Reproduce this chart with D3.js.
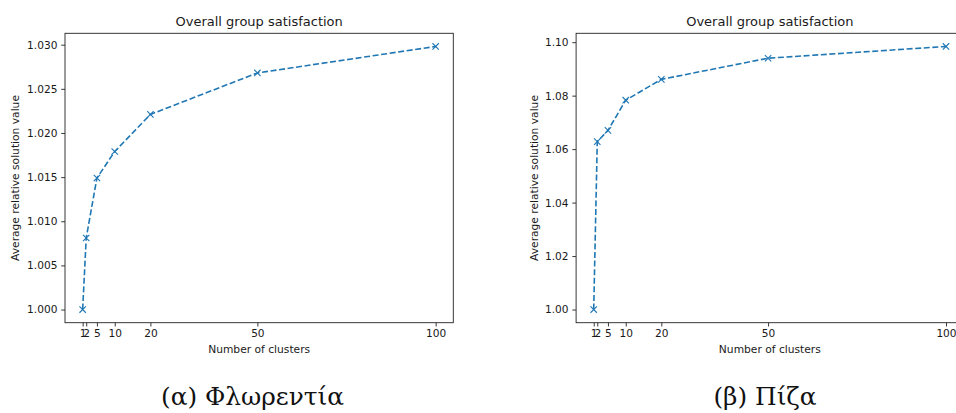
<!DOCTYPE html>
<html>
<head>
<meta charset="utf-8">
<script src="https://cdn.jsdelivr.net/npm/d3@7"></script>
<style>
  body { margin: 0; background: #fff; }
  svg { display: block; overflow: hidden; }
</style>
</head>
<body>
<div id="chart"></div>
<script>
// number of clusters (x values, also used as tick positions)
var clusters = [1, 2, 5, 10, 20, 50, 100];

// average relative solution value per city
var florenceValues = [1.0000, 1.0081, 1.0149, 1.0179, 1.0221, 1.0268, 1.0298];
var pisaValues = [1.0000, 1.0628, 1.0670, 1.0783, 1.0861, 1.0940, 1.0984];

var florenceTicks = [1.000, 1.005, 1.010, 1.015, 1.020, 1.025, 1.030];
var pisaTicks = [1.00, 1.02, 1.04, 1.06, 1.08, 1.10];

var chartTitle = "Overall group satisfaction";
var xLabel = "Number of clusters";
var yLabel = "Average relative solution value";
var captions = ["(α) Φλωρεντία", "(β) Πίζα"];

var width = 956;
var height = 413;
var lineColor = "#1f77b4";

var svg = d3.select("#chart").append("svg")
    .attr("width", width)
    .attr("height", height)
    .attr("font-family", "DejaVu Sans, sans-serif");

// matplotlib-like 5% margins around the data
function padded(ext) {
  var m = (ext[1] - ext[0]) * 0.05;
  return [ext[0] - m, ext[1] + m];
}

function drawPanel(opts) {
  var left = opts.left, right = opts.right, top = 33.3, bottom = 322.7;

  var x = d3.scaleLinear()
      .domain(padded(d3.extent(clusters)))
      .range([left, right]);
  var y = d3.scaleLinear()
      .domain(padded(d3.extent(opts.values)))
      .range([bottom, top]);

  var g = svg.append("g");

  var xAxis = g.append("g")
      .attr("transform", "translate(0," + bottom + ")")
      .call(d3.axisBottom(x).tickValues(clusters).tickFormat(d3.format("d"))
        .tickSize(3.8).tickPadding(3.4));
  var yAxis = g.append("g")
      .attr("transform", "translate(" + left + ",0)")
      .call(d3.axisLeft(y).tickValues(opts.ticks).tickFormat(d3.format(opts.fmt))
        .tickSize(3.8).tickPadding(3.8));

  [xAxis, yAxis].forEach(function(a) {
    a.select(".domain").remove();
    a.selectAll("line").attr("stroke", "#222").attr("stroke-width", 0.9);
    a.selectAll("text")
        .attr("fill", "#1a1a1a")
        .attr("font-size", 10.6)
        .attr("font-family", "DejaVu Sans, sans-serif");
  });

  // the line
  var line = d3.line()
      .x(function(d) { return x(d[0]); })
      .y(function(d) { return y(d[1]); });
  var pts = d3.zip(clusters, opts.values);

  g.append("path")
      .datum(pts)
      .attr("d", line)
      .attr("fill", "none")
      .attr("stroke", lineColor)
      .attr("stroke-width", 1.6)
      .attr("stroke-dasharray", "6,2.6");

  var s = 3.2;
  g.selectAll(".mark")
      .data(pts)
    .enter().append("path")
      .attr("class", "mark")
      .attr("d", function(d) {
        var cx = x(d[0]), cy = y(d[1]);
        return "M" + (cx - s) + "," + (cy - s) + "L" + (cx + s) + "," + (cy + s) +
               "M" + (cx - s) + "," + (cy + s) + "L" + (cx + s) + "," + (cy - s);
      })
      .attr("fill", "none")
      .attr("stroke", lineColor)
      .attr("stroke-width", 1.1);

  // frame
  g.append("rect")
      .attr("x", left)
      .attr("y", top)
      .attr("width", right - left)
      .attr("height", bottom - top)
      .attr("fill", "none")
      .attr("stroke", "#222")
      .attr("stroke-width", 0.9);

  var cx = (left + right) / 2;
  g.append("text")
      .attr("x", cx)
      .attr("y", 25.5)
      .attr("text-anchor", "middle")
      .attr("font-size", 13)
      .attr("fill", "#1a1a1a")
      .text(chartTitle);

  g.append("text")
      .attr("x", cx)
      .attr("y", 353)
      .attr("text-anchor", "middle")
      .attr("font-size", 10.7)
      .attr("fill", "#1a1a1a")
      .text(xLabel);

  g.append("text")
      .attr("transform", "translate(" + opts.yLabelX + "," + ((top + bottom) / 2) + ") rotate(-90)")
      .attr("text-anchor", "middle")
      .attr("font-size", 10.7)
      .attr("fill", "#1a1a1a")
      .text(yLabel);

  g.append("text")
      .attr("x", opts.captionX)
      .attr("y", 405)
      .attr("text-anchor", "middle")
      .attr("font-family", "DejaVu Serif, serif")
      .attr("font-size", 24.8)
      .attr("fill", "#111")
      .text(opts.caption);
}

drawPanel({ left: 65, right: 453.3, values: florenceValues, ticks: florenceTicks,
            fmt: ".3f", yLabelX: 19.3, captionX: 252.5, caption: captions[0] });
drawPanel({ left: 576.1, right: 963.6, values: pisaValues, ticks: pisaTicks,
            fmt: ".2f", yLabelX: 538.3, captionX: 765, caption: captions[1] });
</script>
</body>
</html>
